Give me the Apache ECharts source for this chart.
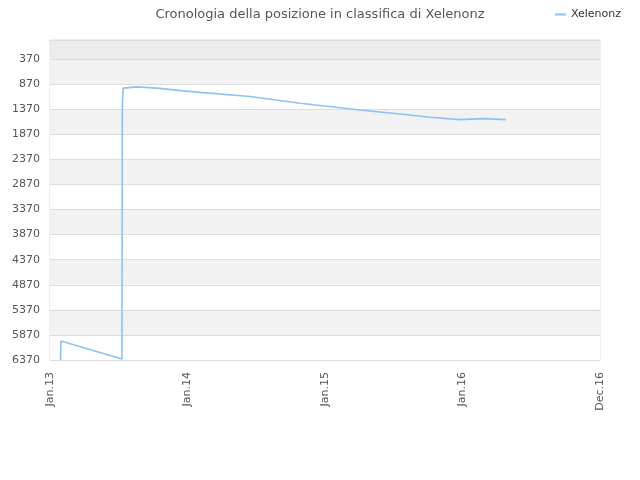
<!DOCTYPE html>
<html>
<head>
<meta charset="utf-8">
<script src="https://cdn.jsdelivr.net/npm/echarts@6/dist/echarts.min.js"></script>
<style>
  html, body { margin: 0; padding: 0; background: #fff; }
  #chart { width: 640px; height: 480px; }
</style>
</head>
<body>
<div id="chart"></div>
<script>
var playerName = 'Xelenonz';
var dates = [
  '2013-01-29', '2013-01-30', '2013-07-11', '2013-07-12', '2013-07-14', '2013-07-17',
  '2013-08-20', '2013-10-20', '2013-12-20', '2014-02-03', '2014-06-16', '2014-10-27',
  '2015-04-04', '2015-07-19', '2015-10-07', '2015-12-25', '2015-12-28', '2016-02-24',
  '2016-02-26', '2016-04-25'
];
var ranks = [
  6370, 5990, 6350, 1350, 950, 925,
  925, 955, 1005, 1035, 1118, 1250,
  1385, 1465, 1530, 1578, 1558, 1558,
  1578, 1578
];
var rankTicks = [370, 870, 1370, 1870, 2370, 2870, 3370, 3870, 4370, 4870, 5370, 5870, 6370];
var dateTicks = ['2013-01-01', '2014-01-01', '2015-01-01', '2016-01-01', '2016-12-31'];
var monthNames = ['Jan', 'Feb', 'Mar', 'Apr', 'May', 'Jun', 'Jul', 'Aug', 'Sep', 'Oct', 'Nov', 'Dec'];

function ts(d) {
  return Date.parse(d + 'T00:00:00Z');
}

var seriesData = dates.map(function (d, i) {
  return [ts(d), ranks[i]];
});

var myChart = echarts.init(document.getElementById('chart'));
var option = {
  animation: false,
  textStyle: { fontFamily: 'DejaVu Sans' },
  title: {
    text: 'Cronologia della posizione in classifica di ' + playerName,
    left: 'center',
    top: 3,
    textStyle: { fontSize: 13, fontWeight: 'normal', color: '#555', fontFamily: 'DejaVu Sans' }
  },
  legend: {
    right: 14,
    top: 4,
    icon: 'rect',
    itemWidth: 11,
    itemHeight: 2,
    itemGap: 8,
    textStyle: { fontSize: 11, color: '#333' },
    data: [playerName]
  },
  grid: {
    left: 50,
    right: 40,
    top: 40,
    bottom: 120,
    show: true,
    borderColor: '#ddd',
    borderWidth: 1
  },
  xAxis: {
    type: 'value',
    min: ts(dateTicks[0]),
    max: ts(dateTicks[dateTicks.length - 1]),
    axisLine: { lineStyle: { color: '#ddd' } },
    axisTick: { show: false },
    splitLine: { show: false },
    axisLabel: {
      rotate: 90,
      fontSize: 11,
      color: '#555',
      margin: 12,
      customValues: dateTicks.map(ts),
      formatter: function (v) {
        var d = new Date(v);
        return monthNames[d.getUTCMonth()] + '.' + String(d.getUTCFullYear()).slice(2);
      }
    }
  },
  yAxis: {
    type: 'value',
    inverse: true,
    min: -10,
    max: 6370,
    axisLine: { show: false },
    axisTick: { show: false, customValues: [-10].concat(rankTicks) },
    axisLabel: {
      fontSize: 11,
      color: '#555',
      margin: 10,
      customValues: rankTicks,
      formatter: function (v) { return String(v); }
    },
    splitLine: { show: true, lineStyle: { color: '#ddd' } },
    splitArea: {
      show: true,
      areaStyle: {
        color: ['#ececec', '#f2f2f2', '#fff', '#f2f2f2', '#fff', '#f2f2f2', '#fff',
                '#f2f2f2', '#fff', '#f2f2f2', '#fff', '#f2f2f2', '#fff']
      }
    }
  },
  series: [
    {
      name: playerName,
      type: 'line',
      data: seriesData,
      showSymbol: false,
      color: '#8ec1f2',
      lineStyle: { width: 1.6 }
    }
  ]
};
myChart.setOption(option);
</script>
</body>
</html>
